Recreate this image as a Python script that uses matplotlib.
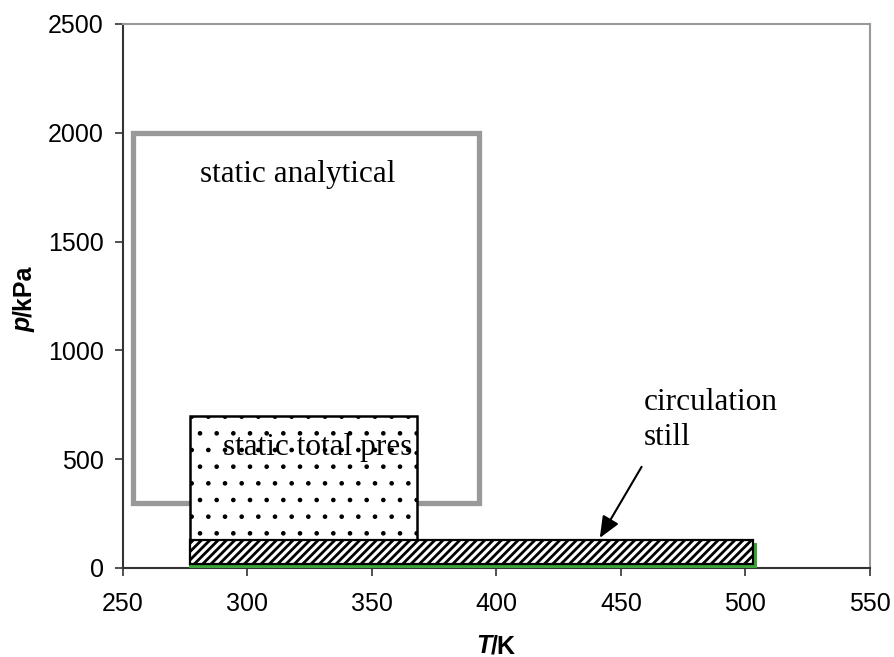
import matplotlib
matplotlib.use("Agg")
import matplotlib.pyplot as plt
from matplotlib.patches import Rectangle
from matplotlib.transforms import offset_copy

# Data: method ranges (T in K, p in kPa)
methods = ["static analytical", "static total pres.", "circulation still", "other"]
T_min = [254, 277, 277, 277]
T_max = [393, 368, 503, 504]
p_min = [300, 0, 18, 8]
p_max = [2000, 700, 130, 112]

x_ticks = [250, 300, 350, 400, 450, 500, 550]
y_ticks = [0, 500, 1000, 1500, 2000, 2500]

fig = plt.figure(figsize=(8.95, 6.57), dpi=100)
ax = fig.add_axes([0.1374, 0.1355, 0.972 - 0.1374, 0.9635 - 0.1355])
ax.set_xlim(250, 550)
ax.set_ylim(0, 2500)

styles = [
    dict(fill=False, edgecolor="#999999", linewidth=3.8, zorder=1),
    dict(facecolor="white", edgecolor="black", hatch=".", linewidth=1.8, zorder=2),
    dict(facecolor="white", edgecolor="black", hatch="////", linewidth=1.6, zorder=4),
    dict(fill=False, edgecolor="#3aa63a", linewidth=2.2, zorder=3),
]
hatch_lw = [1.0, 0.9, 2.0, 1.0]
for i in range(len(methods)):
    plt.rcParams['hatch.linewidth'] = hatch_lw[i]
    r = Rectangle((T_min[i], p_min[i]), T_max[i] - T_min[i], p_max[i] - p_min[i],
                  **styles[i])
    ax.add_patch(r)

serif = ["Liberation Serif", "DejaVu Serif"]
fs = 22.5
ax.text(281, 1774, "static analytical", family=serif, fontsize=fs,
        ha="left", va="baseline", zorder=6)
ax.text(290, 519, "static total pres.", family=serif, fontsize=fs,
        ha="left", va="baseline", zorder=6, clip_on=False)
ax.text(459, 726, "circulation", family=serif, fontsize=fs,
        ha="left", va="baseline", zorder=6)
ax.text(459, 565, "still", family=serif, fontsize=fs,
        ha="left", va="baseline", zorder=6)
ax.annotate("", xy=(441.5, 138), xytext=(458.3, 465),
            arrowprops=dict(arrowstyle="-|>,head_length=1.3,head_width=0.55",
                            color="black", lw=1.5, shrinkA=0, shrinkB=0),
            zorder=7)

ax.set_xticks(x_ticks)
ax.set_yticks(y_ticks)
sans = ["Liberation Sans", "DejaVu Sans"]
ax.set_xticklabels([str(v) for v in x_ticks], family=sans, fontsize=18)
ax.set_yticklabels([str(v) for v in y_ticks], family=sans, fontsize=18)
ax.tick_params(direction="out", length=6, width=1.2, color="#333333")
ax.tick_params(axis="x", pad=11)
ax.tick_params(axis="y", pad=8)

for s in ["left", "bottom"]:
    ax.spines[s].set_color("#333333")
    ax.spines[s].set_linewidth(1.5)
for s in ["top", "right"]:
    ax.spines[s].set_color("#999999")
    ax.spines[s].set_linewidth(1.5)

# axis labels with italic variable part
renderer = fig.canvas.get_renderer()
t1 = fig.text(476 / 895, 1 - 653 / 657, "T", family=sans, fontsize=18,
              fontweight="bold", fontstyle="italic", ha="left", va="baseline")
w = t1.get_window_extent(renderer).width
fig.text(476 / 895, 1 - 653 / 657, "/K", family=sans, fontsize=18,
         fontweight="bold", ha="left", va="baseline",
         transform=offset_copy(fig.transFigure, fig=fig, x=w, y=0, units="dots"))
p1 = fig.text(31 / 895, 1 - 332 / 657, "p", family=sans, fontsize=18,
              fontweight="bold", fontstyle="italic", rotation=90, ha="left",
              va="baseline", rotation_mode="anchor")
h = p1.get_window_extent(renderer).height
fig.text(31 / 895, 1 - 332 / 657, "/kPa", family=sans, fontsize=18,
         fontweight="bold", rotation=90, ha="left", va="baseline",
         rotation_mode="anchor",
         transform=offset_copy(fig.transFigure, fig=fig, x=0, y=h, units="dots"))

fig.savefig("out.png", dpi=100)
